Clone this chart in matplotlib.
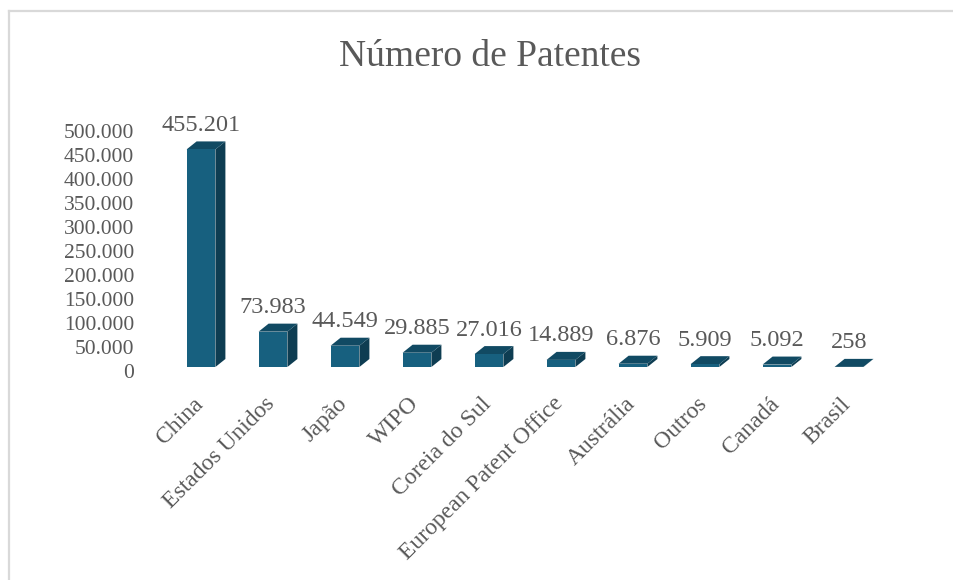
import matplotlib
matplotlib.use("Agg")
import matplotlib.pyplot as plt
from matplotlib.patches import Polygon
from matplotlib.lines import Line2D
from matplotlib.transforms import ScaledTranslation, blended_transform_factory

categories = ["China", "Estados Unidos", "Japão", "WIPO", "Coreia do Sul",
              "European Patent Office", "Austrália", "Outros", "Canadá", "Brasil"]
values = [455201, 73983, 44549, 29885, 27016, 14889, 6876, 5909, 5092, 258]
value_labels = ["455.201", "73.983", "44.549", "29.885", "27.016",
                "14.889", "6.876", "5.909", "5.092", "258"]
yticks = [0, 50000, 100000, 150000, 200000, 250000, 300000, 350000, 400000, 450000, 500000]
ytick_labels = ["0", "50.000", "100.000", "150.000", "200.000", "250.000",
                "300.000", "350.000", "400.000", "450.000", "500.000"]
title = "Número de Patentes"

plt.rcParams['font.family'] = ['Liberation Serif', 'DejaVu Serif']
TXT = "#595959"
FRONT = "#17607F"
TOP = "#114A63"
SIDE = "#0E3D52"

W, H = 954, 580
fig = plt.figure(figsize=(W / 100, H / 100), dpi=100)
fig.patch.set_facecolor("white")

# axes: category -0.5 at x=165px, 9.5 at 885px; y 0 at 367px from top, 500000 at 128px
ax = fig.add_axes([165 / W, (H - 367) / H, 720 / W, 239 / H])
ax.set_xlim(-0.5, 9.5)
ax.set_ylim(0, 500000)
ax.axis("off")

px_x = 1 / 72.0          # data units per pixel in x
px_y = 500000 / 239.0    # data units per pixel in y
dx = 10 * px_x
dy = 8 * px_y
bw = 0.40

for i, v in enumerate(values):
    x0, x1 = i - bw / 2, i + bw / 2
    front = Polygon([(x0, 0), (x1, 0), (x1, v), (x0, v)], closed=True,
                    facecolor=FRONT, edgecolor="none", clip_on=False)
    top = Polygon([(x0, v), (x1, v), (x1 + dx, v + dy), (x0 + dx, v + dy)], closed=True,
                  facecolor=TOP, edgecolor="none", clip_on=False)
    side = Polygon([(x1, 0), (x1 + dx, dy), (x1 + dx, v + dy), (x1, v)], closed=True,
                   facecolor=SIDE, edgecolor="none", clip_on=False)
    for p in (side, top, front):
        ax.add_patch(p)
    ax.annotate(value_labels[i], xy=(i, v + dy), xytext=(0, 4), textcoords="offset points",
                ha="center", va="bottom", fontsize=17.5, color=TXT, annotation_clip=False)

# y tick labels (on the back wall, slightly offset)
tr = blended_transform_factory(ax.transAxes, ax.transData)
for t, lab in zip(yticks, ytick_labels):
    ax.text(-0.043, t, lab, transform=tr + ScaledTranslation(0, -6 / 100, fig.dpi_scale_trans),
            ha="right", va="center", fontsize=15.5, color=TXT, clip_on=False)

# category labels
trx = blended_transform_factory(ax.transData, ax.transAxes)
for i, c in enumerate(categories):
    ax.text(i - 0.12, -0.11, c, transform=trx, rotation=45, rotation_mode="anchor",
            ha="right", va="top", fontsize=17, color=TXT, clip_on=False)

fig.text(490 / W, 1 - 57 / H, title, ha="center", va="center", fontsize=27, color=TXT)

# chart frame (left and top edges visible)
fig.add_artist(Line2D([9.5 / W, 9.5 / W], [0, 1 - 10.5 / H], transform=fig.transFigure,
                      color="#d9d9d9", lw=1.6))
fig.add_artist(Line2D([9.5 / W, 1], [1 - 10.5 / H, 1 - 10.5 / H], transform=fig.transFigure,
                      color="#d9d9d9", lw=1.6))

fig.savefig("out.png", dpi=100, facecolor="white")
